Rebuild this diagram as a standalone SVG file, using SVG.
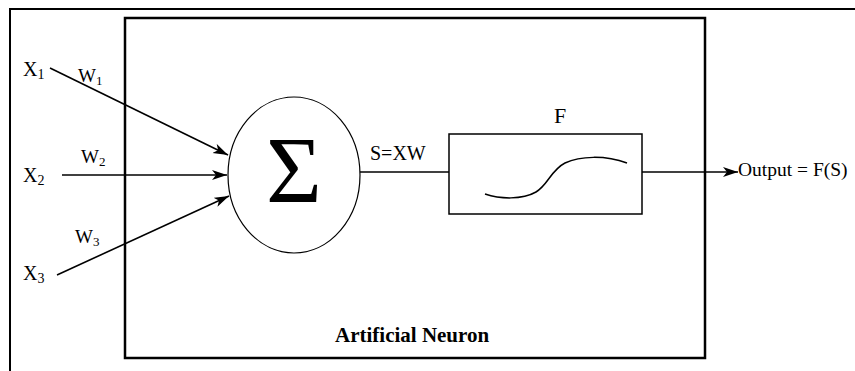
<svg xmlns="http://www.w3.org/2000/svg" width="855" height="371" viewBox="0 0 855 371">
<style>
.t{font-family:"Liberation Serif","Times New Roman",serif;fill:#000}
.ln{stroke:#000;fill:none}
</style>
<defs>
<marker id="ah" markerWidth="16" markerHeight="12" refX="15" refY="5" orient="auto" markerUnits="userSpaceOnUse">
<path d="M0,0 L15,5 L0,10 L4,5 z" fill="#000"/>
</marker>
</defs>
<rect width="855" height="371" fill="#fff"/>
<g id="frame">
<path class="ln" d="M855,9 H10 V371" stroke-width="2"/>
</g>
<g id="neuron">
<rect x="125" y="18" width="580" height="340" class="ln" stroke-width="2.5"/>
<text class="t" x="335" y="342" font-size="21" font-weight="bold">Artificial Neuron</text>
</g>
<g id="sum">
<ellipse cx="294" cy="175" rx="66" ry="78" class="ln" stroke-width="1.2"/>
<text class="t" x="294" y="203" font-size="96" text-anchor="middle">Σ</text>
</g>
<g id="activation">
<rect x="449" y="134" width="193" height="80" class="ln" stroke-width="1.5"/>
<text class="t" x="560" y="123" font-size="22" text-anchor="middle">F</text>
<path class="ln" stroke-width="1.5" d="M485,194 C500,199 522,200 536,192 C548,185 551,170 565,163 C580,156 605,155 627,163"/>
</g>
<g id="inputs">
<text class="t" x="23" y="76" font-size="20">X<tspan font-size="14" dy="3">1</tspan></text>
<text class="t" x="23" y="182" font-size="20">X<tspan font-size="14" dy="3">2</tspan></text>
<text class="t" x="23" y="280" font-size="20">X<tspan font-size="14" dy="3">3</tspan></text>
</g>
<g id="output">
<text class="t" x="738" y="176" font-size="19.5">Output = F(S)</text>
</g>
<g id="connectors">
<line class="ln" stroke-width="1.6" x1="50" y1="68" x2="228" y2="155" marker-end="url(#ah)"/>
<line class="ln" stroke-width="1.6" x1="62" y1="175" x2="227" y2="175" marker-end="url(#ah)"/>
<line class="ln" stroke-width="1.6" x1="57" y1="275" x2="229" y2="196" marker-end="url(#ah)"/>
<line class="ln" stroke-width="1.6" x1="360" y1="172" x2="449" y2="172"/>
<line class="ln" stroke-width="1.6" x1="642" y1="172" x2="738" y2="172" marker-end="url(#ah)"/>
<text class="t" x="78" y="82" font-size="19">W<tspan font-size="13" dy="3">1</tspan></text>
<text class="t" x="81" y="163" font-size="19">W<tspan font-size="13" dy="3">2</tspan></text>
<text class="t" x="75" y="243" font-size="19">W<tspan font-size="13" dy="3">3</tspan></text>
<text class="t" x="370" y="160" font-size="20">S=XW</text>
</g>
</svg>
